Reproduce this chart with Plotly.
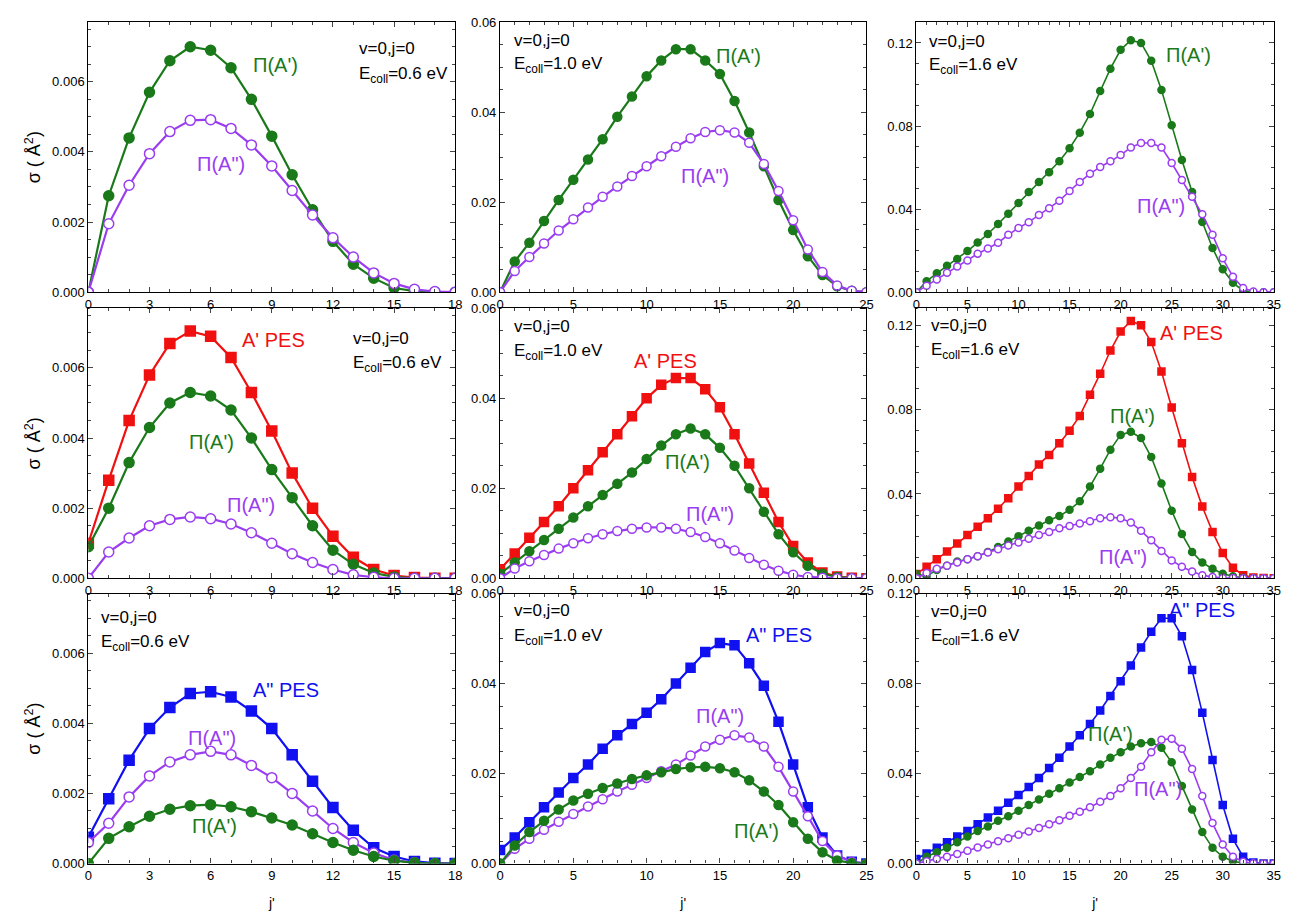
import plotly.graph_objects as go
from plotly.subplots import make_subplots

GREEN = "#1a7a1a"; PURPLE = "#9a3df0"; RED = "#f01010"; BLUE = "#1010f0"
FONT = "Liberation Sans"

j18 = list(range(19)); j25 = list(range(26)); j35 = list(range(36))

r1c1_PiA1 = [0,0.00275,0.0044,0.0057,0.0066,0.0070,0.0069,0.0064,0.0055,0.00445,0.00335,0.00235,0.00145,0.0008,0.0004,0.00012,0.00003,0,0]
r1c1_PiA2 = [0,0.00195,0.00305,0.00395,0.00458,0.0049,0.00492,0.00467,0.0042,0.0036,0.0029,0.0022,0.00155,0.001,0.00055,0.00025,0.00008,0.00002,0]
r1c2_PiA1 = [0,0.0068,0.011,0.0158,0.0205,0.025,0.0295,0.034,0.039,0.0435,0.048,0.0515,0.054,0.054,0.0515,0.0485,0.0425,0.0355,0.028,0.0205,0.0138,0.008,0.0038,0.0013,0.0003,0]
r1c2_PiA2 = [0,0.0047,0.0078,0.0108,0.0137,0.0162,0.0188,0.0212,0.0235,0.0258,0.028,0.0302,0.0323,0.0342,0.0356,0.036,0.0355,0.0332,0.0285,0.0225,0.016,0.0095,0.0045,0.0015,0.0003,0]
r1c3_PiA1 = [0,0.0053,0.0091,0.0127,0.016,0.0198,0.0239,0.028,0.0328,0.0378,0.0429,0.0482,0.0531,0.0578,0.063,0.0693,0.0768,0.0858,0.0969,0.1076,0.1167,0.1213,0.12,0.1114,0.0974,0.0804,0.0636,0.0482,0.0338,0.0213,0.011,0.0045,0.0007,0,0,0]
r1c3_PiA2 = [0,0.0031,0.0061,0.0094,0.0124,0.0152,0.0185,0.021,0.0238,0.0276,0.0309,0.0337,0.0371,0.0404,0.044,0.0487,0.0531,0.057,0.0603,0.063,0.066,0.0697,0.0718,0.0718,0.0697,0.0622,0.054,0.046,0.0375,0.0276,0.0163,0.0074,0.002,0.0003,0,0]

r2c1_Ap = [0.001,0.0028,0.0045,0.0058,0.0067,0.00705,0.0069,0.0063,0.0053,0.0042,0.0030,0.0020,0.0012,0.0006,0.00025,0.00008,0.00002,0,0]
r2c1_PiA1 = [0.0009,0.002,0.0033,0.0043,0.0050,0.0053,0.0052,0.0048,0.0040,0.0031,0.0023,0.0015,0.0008,0.0004,0.00015,0.00004,0,0,0]
r2c1_PiA2 = [0,0.00075,0.00115,0.0015,0.00168,0.00175,0.0017,0.00155,0.0013,0.001,0.0007,0.00045,0.00025,0.0001,0.00003,0,0,0,0]
r2c2_Ap = [0.002,0.0055,0.009,0.0125,0.016,0.02,0.024,0.028,0.032,0.036,0.040,0.043,0.0445,0.0445,0.042,0.038,0.032,0.0255,0.019,0.0125,0.0072,0.0035,0.0013,0.0004,0.0001,0]
r2c2_PiA1 = [0.001,0.0035,0.006,0.0085,0.011,0.0135,0.016,0.0185,0.021,0.0235,0.0265,0.0295,0.032,0.0333,0.032,0.029,0.025,0.020,0.0148,0.0098,0.0058,0.0028,0.001,0.0003,0.00005,0]
r2c2_PiA2 = [0,0.0022,0.0038,0.0052,0.0066,0.0078,0.0089,0.0098,0.0105,0.011,0.0113,0.0113,0.011,0.0103,0.0092,0.0078,0.0062,0.0045,0.003,0.0017,0.0008,0.0003,0.0001,0,0,0]
r2c3_Ap = [0.002,0.0055,0.0090,0.0127,0.0165,0.0205,0.0245,0.0285,0.033,0.038,0.0435,0.0485,0.054,0.0585,0.064,0.070,0.077,0.087,0.097,0.108,0.117,0.122,0.120,0.112,0.098,0.081,0.064,0.048,0.034,0.022,0.012,0.005,0.0015,0.0004,0.0001,0]
r2c3_PiA1 = [0.002,0.001,0.004,0.006,0.008,0.009,0.0105,0.0125,0.0148,0.0175,0.020,0.0225,0.025,0.0275,0.0295,0.0325,0.0365,0.0435,0.052,0.061,0.068,0.0695,0.0665,0.0575,0.045,0.032,0.021,0.0125,0.0075,0.0045,0.0022,0.001,0.0003,0.0001,0,0]
r2c3_PiA2 = [0,0.0025,0.0045,0.006,0.0075,0.009,0.0105,0.0122,0.0138,0.0155,0.017,0.0188,0.0205,0.022,0.0237,0.0248,0.026,0.027,0.0285,0.029,0.0285,0.0265,0.0225,0.018,0.013,0.0085,0.0055,0.0032,0.0015,0.0006,0.0002,0.0001,0,0,0,0]

r3c1_App = [0.00075,0.00185,0.00295,0.00385,0.00445,0.00485,0.0049,0.00475,0.00435,0.00385,0.0031,0.00235,0.0016,0.00095,0.00045,0.0002,0.00006,0.00001,0]
r3c1_PiA2 = [0.0006,0.00115,0.0019,0.0025,0.0029,0.0031,0.0032,0.0031,0.0028,0.00245,0.002,0.0015,0.001,0.0006,0.0003,0.0001,0.00003,0,0]
r3c1_PiA1 = [0,0.00072,0.00105,0.00135,0.00155,0.00165,0.00168,0.00162,0.00148,0.0013,0.0011,0.00085,0.0006,0.00038,0.0002,0.00008,0.00002,0,0]
r3c2_App = [0.003,0.0058,0.0092,0.0125,0.0158,0.019,0.022,0.0255,0.0285,0.031,0.0335,0.0365,0.040,0.0435,0.047,0.049,0.0485,0.0445,0.0395,0.0315,0.022,0.0125,0.0058,0.0018,0.0004,0]
r3c2_PiA2 = [0,0.0033,0.0055,0.0075,0.0093,0.011,0.0127,0.0143,0.016,0.0175,0.019,0.0205,0.022,0.024,0.026,0.0275,0.0285,0.028,0.026,0.0215,0.016,0.0105,0.005,0.0018,0.0004,0]
r3c2_PiA1 = [0,0.004,0.007,0.0095,0.012,0.014,0.0155,0.0168,0.0178,0.0188,0.0196,0.0203,0.021,0.0214,0.0215,0.0212,0.0203,0.0185,0.016,0.013,0.0092,0.0055,0.0025,0.0007,0.0001,0]
r3c3_App = [0.002,0.0045,0.007,0.0095,0.012,0.0145,0.0175,0.0205,0.0235,0.027,0.0305,0.034,0.038,0.0425,0.047,0.052,0.057,0.062,0.068,0.0745,0.081,0.088,0.096,0.103,0.109,0.109,0.101,0.086,0.067,0.046,0.026,0.011,0.003,0.0005,0,0]
r3c3_PiA1 = [0,0.003,0.005,0.007,0.0095,0.012,0.0145,0.0165,0.019,0.021,0.0235,0.026,0.0285,0.031,0.0335,0.036,0.0385,0.041,0.044,0.047,0.0495,0.052,0.0535,0.054,0.0515,0.045,0.0345,0.024,0.014,0.007,0.003,0.001,0.0002,0,0,0]
r3c3_PiA2 = [0,0.001,0.002,0.003,0.0043,0.0057,0.0071,0.0085,0.0099,0.0113,0.0128,0.0143,0.0158,0.0175,0.0193,0.0212,0.023,0.025,0.0275,0.03,0.0335,0.038,0.043,0.0495,0.055,0.0555,0.051,0.042,0.03,0.018,0.0085,0.003,0.0008,0.0001,0,0]

fig = make_subplots(rows=3, cols=3)
msz = {1: 10, 2: 9, 3: 7}

def add(r, c, x, y, color, sym):
    fill = "white" if sym == "circle-open" else color
    s = "circle" if sym == "circle-open" else sym
    fig.add_trace(go.Scatter(x=x, y=y, mode="lines+markers", showlegend=False,
        line=dict(color=color, width=2.2 if c < 3 else 1.6),
        marker=dict(symbol=s, size=msz[c], color=fill, line=dict(color=color, width=1.5))), row=r, col=c)

add(1,1,j18,r1c1_PiA1,GREEN,"circle"); add(1,1,j18,r1c1_PiA2,PURPLE,"circle-open")
add(1,2,j25,r1c2_PiA1,GREEN,"circle"); add(1,2,j25,r1c2_PiA2,PURPLE,"circle-open")
add(1,3,j35,r1c3_PiA1,GREEN,"circle"); add(1,3,j35,r1c3_PiA2,PURPLE,"circle-open")
add(2,1,j18,r2c1_Ap,RED,"square"); add(2,1,j18,r2c1_PiA1,GREEN,"circle"); add(2,1,j18,r2c1_PiA2,PURPLE,"circle-open")
add(2,2,j25,r2c2_Ap,RED,"square"); add(2,2,j25,r2c2_PiA1,GREEN,"circle"); add(2,2,j25,r2c2_PiA2,PURPLE,"circle-open")
add(2,3,j35,r2c3_Ap,RED,"square"); add(2,3,j35,r2c3_PiA1,GREEN,"circle"); add(2,3,j35,r2c3_PiA2,PURPLE,"circle-open")
add(3,1,j18,r3c1_App,BLUE,"square"); add(3,1,j18,r3c1_PiA2,PURPLE,"circle-open"); add(3,1,j18,r3c1_PiA1,GREEN,"circle")
add(3,2,j25,r3c2_App,BLUE,"square"); add(3,2,j25,r3c2_PiA2,PURPLE,"circle-open"); add(3,2,j25,r3c2_PiA1,GREEN,"circle")
add(3,3,j35,r3c3_App,BLUE,"square"); add(3,3,j35,r3c3_PiA1,GREEN,"circle"); add(3,3,j35,r3c3_PiA2,PURPLE,"circle-open")

xdom = [(0.0596,0.346),(0.381,0.667),(0.706,0.985)]
ydom = [(0.691,0.992),(0.372,0.673),(0.054,0.355)]
xrng = {1:(0,18,3),2:(0,25,5),3:(0,35,5)}
yrng = {(1,1):(0,0.0077,0.002,".3f"),(2,1):(0,0.0077,0.002,".3f"),(3,1):(0,0.0077,0.002,".3f"),
        (1,2):(0,0.06,0.02,".2f"),(2,2):(0,0.06,0.02,".2f"),(3,2):(0,0.06,0.02,".2f"),
        (1,3):(0,0.13,0.04,".2f"),(2,3):(0,0.128,0.04,".2f"),(3,3):(0,0.12,0.04,".2f")}
ax = dict(showline=True, linecolor="black", linewidth=1.2, mirror="allticks", ticks="inside",
          ticklen=5, showgrid=False, zeroline=False, tickfont=dict(size=13, family=FONT),
          minor=dict(ticks="inside", ticklen=3))
for r in range(1,4):
    for c in range(1,4):
        x0,x1,dx = xrng[c]; y0,y1,dy,fmt = yrng[(r,c)]
        fig.update_xaxes(ax, range=[x0,x1], dtick=dx, domain=xdom[c-1], row=r, col=c,
                         title=dict(text="j'", font=dict(size=14, family=FONT)) if r == 3 else None)
        fig.update_yaxes(ax, range=[y0,y1], dtick=dy, tickformat=fmt, domain=ydom[r-1], row=r, col=c,
                         title=dict(text="σ ( Å<sup>2</sup>)", font=dict(size=18, family=FONT), standoff=6) if c == 1 else None)

def txt(r, c, x, y, s, color, size=20, anchor="center"):
    n = (r-1)*3 + c
    ref = "" if n == 1 else str(n)
    fig.add_annotation(x=x, y=y, xref="x"+ref, yref="y"+ref, text=s, showarrow=False,
                       font=dict(color=color, size=size, family=FONT), xanchor=anchor, yanchor="middle")

cond = {1:"E<sub>coll</sub>=0.6 eV",2:"E<sub>coll</sub>=1.0 eV",3:"E<sub>coll</sub>=1.6 eV"}
CS = 17
txt(1,1,13.2,0.00696,"v=0,j=0","black",CS,"left"); txt(1,1,13.2,0.0062,cond[1],"black",CS,"left")
txt(1,2,0.8,0.056,"v=0,j=0","black",CS,"left"); txt(1,2,0.8,0.0505,cond[2],"black",CS,"left")
txt(1,3,1.0,0.1208,"v=0,j=0","black",CS,"left"); txt(1,3,1.0,0.109,cond[3],"black",CS,"left")
txt(2,1,12.9,0.00684,"v=0,j=0","black",CS,"left"); txt(2,1,12.9,0.0061,cond[1],"black",CS,"left")
txt(2,2,0.8,0.056,"v=0,j=0","black",CS,"left"); txt(2,2,0.8,0.0503,cond[2],"black",CS,"left")
txt(2,3,1.2,0.1197,"v=0,j=0","black",CS,"left"); txt(2,3,1.2,0.1077,cond[3],"black",CS,"left")
txt(3,1,0.5,0.00702,"v=0,j=0","black",CS,"left"); txt(3,1,0.5,0.0063,cond[1],"black",CS,"left")
txt(3,2,0.8,0.0563,"v=0,j=0","black",CS,"left"); txt(3,2,0.8,0.0503,cond[2],"black",CS,"left")
txt(3,3,1.2,0.112,"v=0,j=0","black",CS,"left"); txt(3,3,1.2,0.1008,cond[3],"black",CS,"left")

txt(1,1,9.2,0.00648,"Π(A')",GREEN); txt(1,1,6.5,0.00366,'Π(A")',PURPLE)
txt(1,2,16.3,0.0525,"Π(A')",GREEN); txt(1,2,14.0,0.0258,'Π(A")',PURPLE)
txt(1,3,26.6,0.1142,"Π(A')",GREEN); txt(1,3,24.0,0.0416,'Π(A")',PURPLE)
txt(2,1,9.1,0.00679,"A' PES",RED); txt(2,1,6.06,0.00389,"Π(A')",GREEN); txt(2,1,7.96,0.00208,'Π(A")',PURPLE)
txt(2,2,11.3,0.0482,"A' PES",RED); txt(2,2,12.8,0.0258,"Π(A')",GREEN); txt(2,2,14.3,0.0142,'Π(A")',PURPLE)
txt(2,3,26.9,0.1164,"A' PES",RED); txt(2,3,21.2,0.0769,"Π(A')",GREEN); txt(2,3,20.2,0.0102,'Π(A")',PURPLE)
txt(3,1,9.7,0.00494,'A" PES',BLUE); txt(3,1,6.06,0.00357,'Π(A")',PURPLE); txt(3,1,6.2,0.00106,"Π(A')",GREEN)
txt(3,2,19.0,0.0508,'A" PES',BLUE); txt(3,2,15.0,0.0329,'Π(A")',PURPLE); txt(3,2,17.5,0.0073,"Π(A')",GREEN)
txt(3,3,28.0,0.1126,'A" PES',BLUE); txt(3,3,19.0,0.0575,"Π(A')",GREEN); txt(3,3,23.7,0.033,'Π(A")',PURPLE)

fig.update_layout(width=1292, height=912, margin=dict(l=0,r=0,t=0,b=0),
                  plot_bgcolor="white", paper_bgcolor="white",
                  font=dict(family=FONT, color="black"))
fig.write_html("out.html")
